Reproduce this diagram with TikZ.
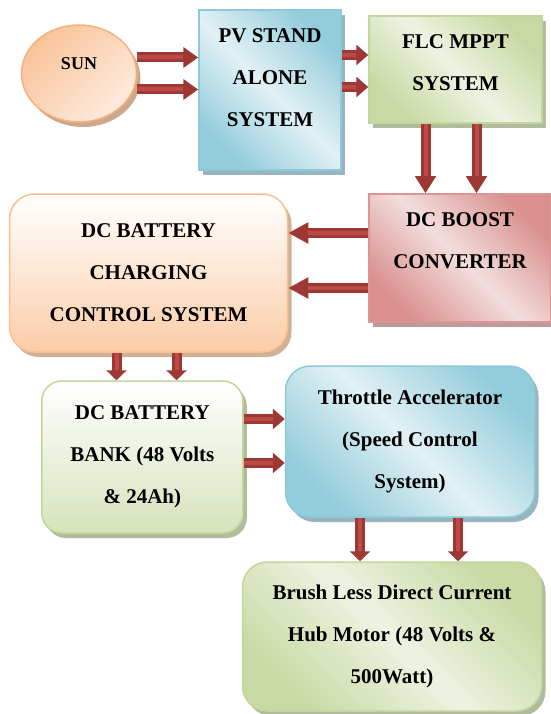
\documentclass[tikz,border=0pt]{standalone}
\usepackage{fontspec}
\setmainfont{Liberation Serif}
\usetikzlibrary{arrows.meta,calc,positioning,shapes.geometric,shadows}

\definecolor{sunfill}{HTML}{F9C39A}
\definecolor{sunlight}{HTML}{FDEBDD}
\definecolor{sunline}{HTML}{F5B07E}
\definecolor{pvfill}{HTML}{93CCDB}
\definecolor{pvlight}{HTML}{E2F1F5}
\definecolor{pvline}{HTML}{8DC9D9}
\definecolor{flcfill}{HTML}{C8D9A3}
\definecolor{flclight}{HTML}{EDF3E2}
\definecolor{flcline}{HTML}{C3D69B}
\definecolor{chgfill}{HTML}{FBCDA8}
\definecolor{chgline}{HTML}{FAC090}
\definecolor{bstfill}{HTML}{D9908E}
\definecolor{bstlight}{HTML}{F3DEDD}
\definecolor{bstline}{HTML}{D99694}
\definecolor{bankfill}{HTML}{D6E3BC}
\definecolor{arrowred}{HTML}{9E3835}
\definecolor{arrowmid}{HTML}{BC4A47}

\begin{document}
\begin{tikzpicture}[
    x=1pt,
    y=-1pt,
    txt/.style={align=center, font=\fontsize{21}{42}\selectfont\bfseries},
    blk/.style={draw=#1, line width=1.5pt, inner sep=0pt, txt, drop shadow={shadow xshift=4pt, shadow yshift=-5pt, fill=#1!75!black, opacity=.7}},
    diag/.style 2 args={top color=#1, bottom color=#1, middle color=#2, shading angle=-45},
    arr/.style={line width=10pt, draw=arrowred, -{Triangle[width=20pt,length=#1]}, postaction={draw=arrowmid, line width=4pt, arrows=-, shorten >=#1}},
    arr/.default=15pt
]
\useasboundingbox[fill=white] (0,0) rectangle (550,714);

\node[ellipse, blk=sunline, top color=sunfill, bottom color=sunlight, shading angle=45, minimum width=115pt, minimum height=97pt, label={[txt, font=\fontsize{18}{22}\selectfont\bfseries, yshift=10pt, name=suntext]center:SUN}] (sun) at (79,73.5) {};
\node[blk=pvline, diag={pvfill}{pvlight}, minimum width=142pt, minimum height=160pt, label={[txt, yshift=12pt, name=pvtext]center:PV STAND\\ALONE\\SYSTEM}] (pv) at (270,90) {};
\node[blk=flcline, diag={flcfill}{flclight}, minimum width=173pt, minimum height=107pt, label={[txt, yshift=6.5pt, name=flctext]center:FLC MPPT\\SYSTEM}] (flc) at (455.5,69.5) {};
\node[blk=chgline, rounded corners=25pt, top color=white, bottom color=chgfill, minimum width=278pt, minimum height=158pt] (chg) at (148.5,273) {DC BATTERY\\CHARGING\\CONTROL SYSTEM};
\node[blk=bstline, diag={bstfill}{bstlight}, minimum width=182pt, minimum height=128pt, label={[txt, yshift=17.5pt, name=bsttext]center:DC BOOST\\CONVERTER}] (bst) at (460,258) {};
\node[blk=flcline, rounded corners=20pt, top color=white, bottom color=bankfill, minimum width=201pt, minimum height=152pt] (bank) at (142.3,457) {DC BATTERY\\BANK (48 Volts\\\& 24Ah)};
\node[blk=pvline, rounded corners=25pt, diag={pvfill}{pvlight}, minimum width=249pt, minimum height=151pt] (thr) at (410,441.5) {Throttle Accelerator\\(Speed Control\\System)};
\node[blk=flcline, rounded corners=25pt, diag={flcfill}{flclight}, minimum width=299pt, minimum height=149pt] (mot) at (392,636.5) {Brush Less Direct Current\\Hub Motor (48 Volts \&\\500Watt)};

% sun -> pv
\draw[arr] ([yshift=16pt]sun.east) -- ([yshift=16pt]sun.east -| pv.west);
\draw[arr] ([yshift=-16pt]sun.east) -- ([yshift=-16pt]sun.east -| pv.west);
% pv -> flc
\draw[arr=12pt] ([yshift=35pt]pv.east) -- ([yshift=35pt]pv.east -| flc.west);
\draw[arr=12pt] ([yshift=3pt]pv.east) -- ([yshift=3pt]pv.east -| flc.west);
% flc -> boost
\draw[arr=17pt] ([xshift=-30pt]flc.south) -- ([xshift=-30pt]flc.south |- bst.north);
\draw[arr=17pt] ([xshift=21pt]flc.south) -- ([xshift=21pt]flc.south |- bst.north);
% boost -> charging
\draw[arr=20pt] ([yshift=25pt]bst.west) -- ([yshift=25pt]bst.west -| chg.east);
\draw[arr=20pt] ([yshift=-30pt]bst.west) -- ([yshift=-30pt]bst.west -| chg.east);
% charging -> bank
\draw[arr=10pt] ([xshift=-32pt]chg.south) -- ([xshift=-32pt]chg.south |- bank.north);
\draw[arr=10pt] ([xshift=28pt]chg.south) -- ([xshift=28pt]chg.south |- bank.north);
% bank -> throttle
\draw[arr=12pt] ([yshift=38pt]bank.east) -- ([yshift=38pt]bank.east -| thr.west);
\draw[arr=12pt] ([yshift=-6pt]bank.east) -- ([yshift=-6pt]bank.east -| thr.west);
% throttle -> motor
\draw[arr=10pt] ([xshift=-50pt]thr.south) -- ([xshift=-50pt]thr.south |- mot.north);
\draw[arr=10pt] ([xshift=48pt]thr.south) -- ([xshift=48pt]thr.south |- mot.north);
\end{tikzpicture}
\end{document}
